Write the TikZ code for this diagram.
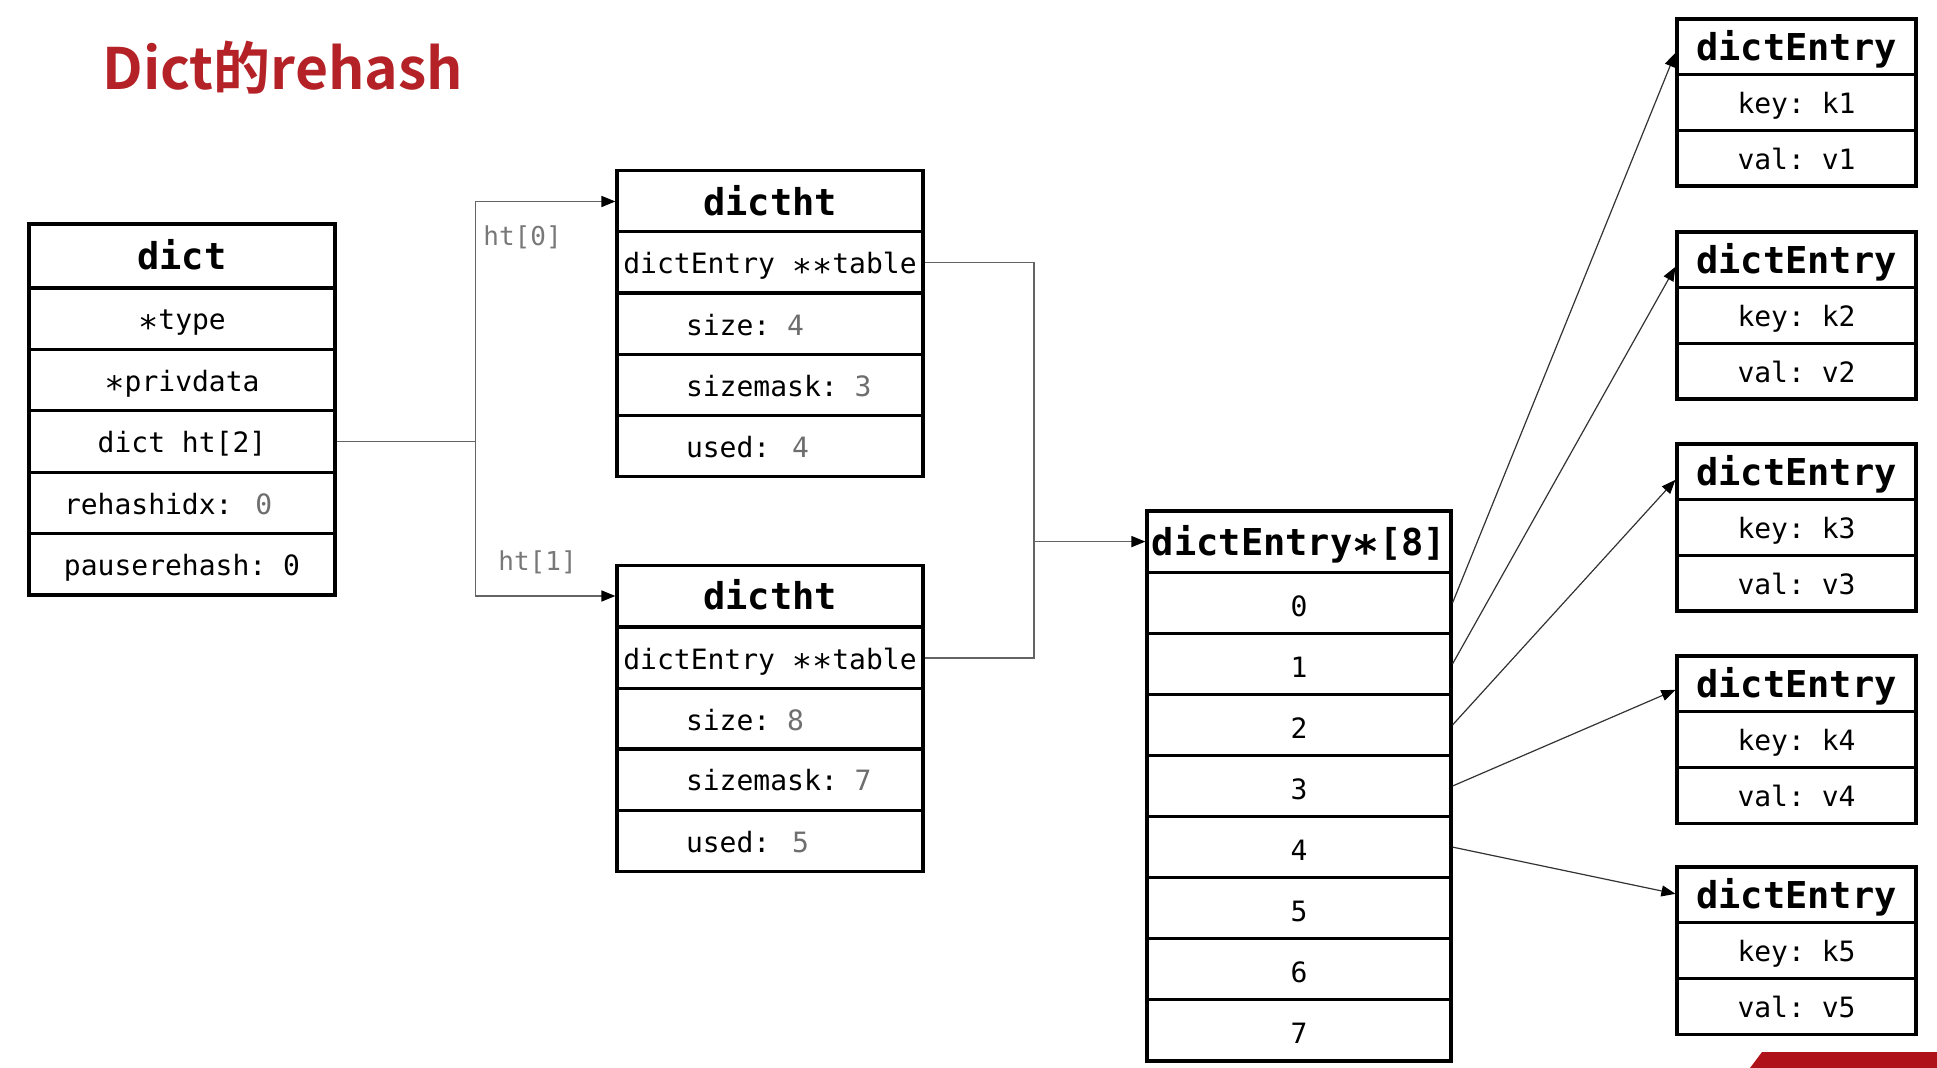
\documentclass[tikz,border=0pt]{standalone}
\usepackage{fontspec}
\setmonofont{DejaVu Sans Mono}
\newfontfamily\titlefont{Noto Sans CJK SC}[BoldFont={Noto Sans CJK SC Bold}]
\usetikzlibrary{arrows.meta,calc}
\definecolor{titlered}{RGB}{180,34,40}
\definecolor{valgray}{RGB}{110,110,110}
\definecolor{labgray}{RGB}{120,120,120}
\definecolor{linegray}{RGB}{100,100,100}
\definecolor{bannerred}{RGB}{176,18,26}
\newcommand\myast{\raisebox{-0.33em}{\scalebox{1.2}{*}}}
\newcommand\gv[1]{{\color{valgray}#1}}
\newcommand\leftin[2]{\makebox[153pt][l]{\hspace{#1}#2}}
\tikzset{
  cell/.style={draw=black, line width=1.6pt, inner sep=0pt, fill=white,
    font=\ttfamily\fontsize{14}{16}\selectfont, text height=14.3pt, text depth=3pt},
  hdr/.style={font=\ttfamily\bfseries\fontsize{18.5}{20}\selectfont, text height=18pt, text depth=4pt},
  digit/.style={text height=16.5pt, text depth=3pt},
  dwid/.style={minimum width=153pt},
  awid/.style={minimum width=152pt},
  ewid/.style={minimum width=119.5pt},
  conn/.style={draw=linegray, line width=0.8pt},
  ptr/.style={draw=black!80, line width=0.6pt},
  arr/.style={-{Triangle[length=7pt,width=5.5pt,color=black]}},
  lab/.style={inner sep=0pt, anchor=west, text=labgray, font=\ttfamily\fontsize{13}{15}\selectfont}
}
\begin{document}
\begin{tikzpicture}[x=0.5pt,y=-0.5pt]
\fill[white] (0,0) rectangle (1937,1068);
\useasboundingbox (0,0) rectangle (1937,1068);

% title
\node[anchor=base west, inner sep=0pt, text=titlered, font=\titlefont\bfseries\fontsize{28.5}{34}\selectfont] (title) at (102,90) {Dict的rehash};

% dict
\node[cell,hdr,dwid,minimum height=32pt] (d0) at (182,256) {dict};
\node[cell,dwid,minimum height=30.7pt] (d1) at (182,318.7) {\myast type};
\node[cell,dwid,minimum height=30.7pt] (d2) at (182,380.1) {\myast privdata};
\node[cell,dwid,minimum height=30.7pt] (d3) at (182,441.5) {dict ht[2]};
\node[cell,dwid,minimum height=30.7pt] (d4) at (182,502.9) {\leftin{17.5pt}{rehashidx: \hspace{3pt}\gv{0}}};
\node[cell,dwid,minimum height=30.7pt] (d5) at (182,564.3) {pauserehash: 0};

% dictht 0
\node[cell,hdr,dwid,minimum height=30.6pt] (t0) at (770,201.5) {dictht};
\node[cell,dwid,minimum height=30.6pt] (t1) at (770,262.5) {dictEntry \myast\myast table};
\node[cell,dwid,minimum height=30.6pt] (t2) at (770,324) {\leftin{34.5pt}{size: \gv{4}}};
\node[cell,dwid,minimum height=30.6pt] (t3) at (770,385) {\leftin{34.5pt}{sizemask: \gv{3}}};
\node[cell,dwid,minimum height=30.6pt] (t4) at (770,446) {\leftin{34.5pt}{used: \hspace{2.5pt}\gv{4}}};

% dictht 1
\node[cell,hdr,dwid,minimum height=30.6pt] (u0) at (770,596) {dictht};
\node[cell,dwid,minimum height=30.6pt] (u1) at (770,658) {dictEntry \myast\myast table};
\node[cell,dwid,minimum height=30.6pt] (u2) at (770,719) {\leftin{34.5pt}{size: \gv{8}}};
\node[cell,dwid,minimum height=30.6pt] (u3) at (770,779.5) {\leftin{34.5pt}{sizemask: \gv{7}}};
\node[cell,dwid,minimum height=30.6pt] (u4) at (770,841) {\leftin{34.5pt}{used: \hspace{2.5pt}\gv{5}}};

% array
\node[cell,hdr,awid,minimum height=30.55pt] (ah) at (1299,541.6) {dictEntry\myast[8]};
\foreach \r in {0,...,7} {
  \node[cell,digit,awid,minimum height=30.55pt] (a\r) at (1299,{602.7+61.1*\r}) {\r};
}

% entries
\foreach \i/\tp in {1/19,2/232,3/444,4/656,5/867} {
  \node[cell,hdr,ewid,minimum height=27.85pt] (e\i-h) at (1796.5,\tp+27.85) {dictEntry};
  \node[cell,ewid,minimum height=27.85pt] (e\i-k) at (1796.5,\tp+83.55) {key: k\i};
  \node[cell,ewid,minimum height=27.85pt] (e\i-v) at (1796.5,\tp+139.25) {val: v\i};
}

% dict -> dictht
\coordinate (j) at (475.5,441.5);
\draw[conn] (d3.east) -- (j);
\draw[conn,arr] (j) |- (t0.west);
\draw[conn,arr] (j) |- (u0.west);
\node[lab] (l0) at (483,237) {ht[0]};
\node[lab] (l1) at (498,562) {ht[1]};

% dictht tables -> array
\coordinate (k) at (1034,541.6);
\draw[conn] (t1.east) -| (k);
\draw[conn] (u1.east) -| (k);
\draw[conn,arr] (k) -- (ah.west);

% array -> entries
\draw[ptr,arr] (a0.east) -- ($(e1-h.west)+(0,6)$);
\draw[ptr,arr] (a1.east) -- ($(e2-h.west)+(0,7)$);
\draw[ptr,arr] (a2.east) -- ($(e3-h.west)+(0,8)$);
\draw[ptr,arr] (a3.east) -- ($(e4-h.west)+(0,6)$);
\draw[ptr,arr] (a4.east) -- ($(e5-h.west)+(0,-1)$);

% banner corner
\fill[bannerred] (1750,1068) -- (1762,1052) -- (1937,1052) -- (1937,1068) -- cycle;
\end{tikzpicture}
\end{document}
